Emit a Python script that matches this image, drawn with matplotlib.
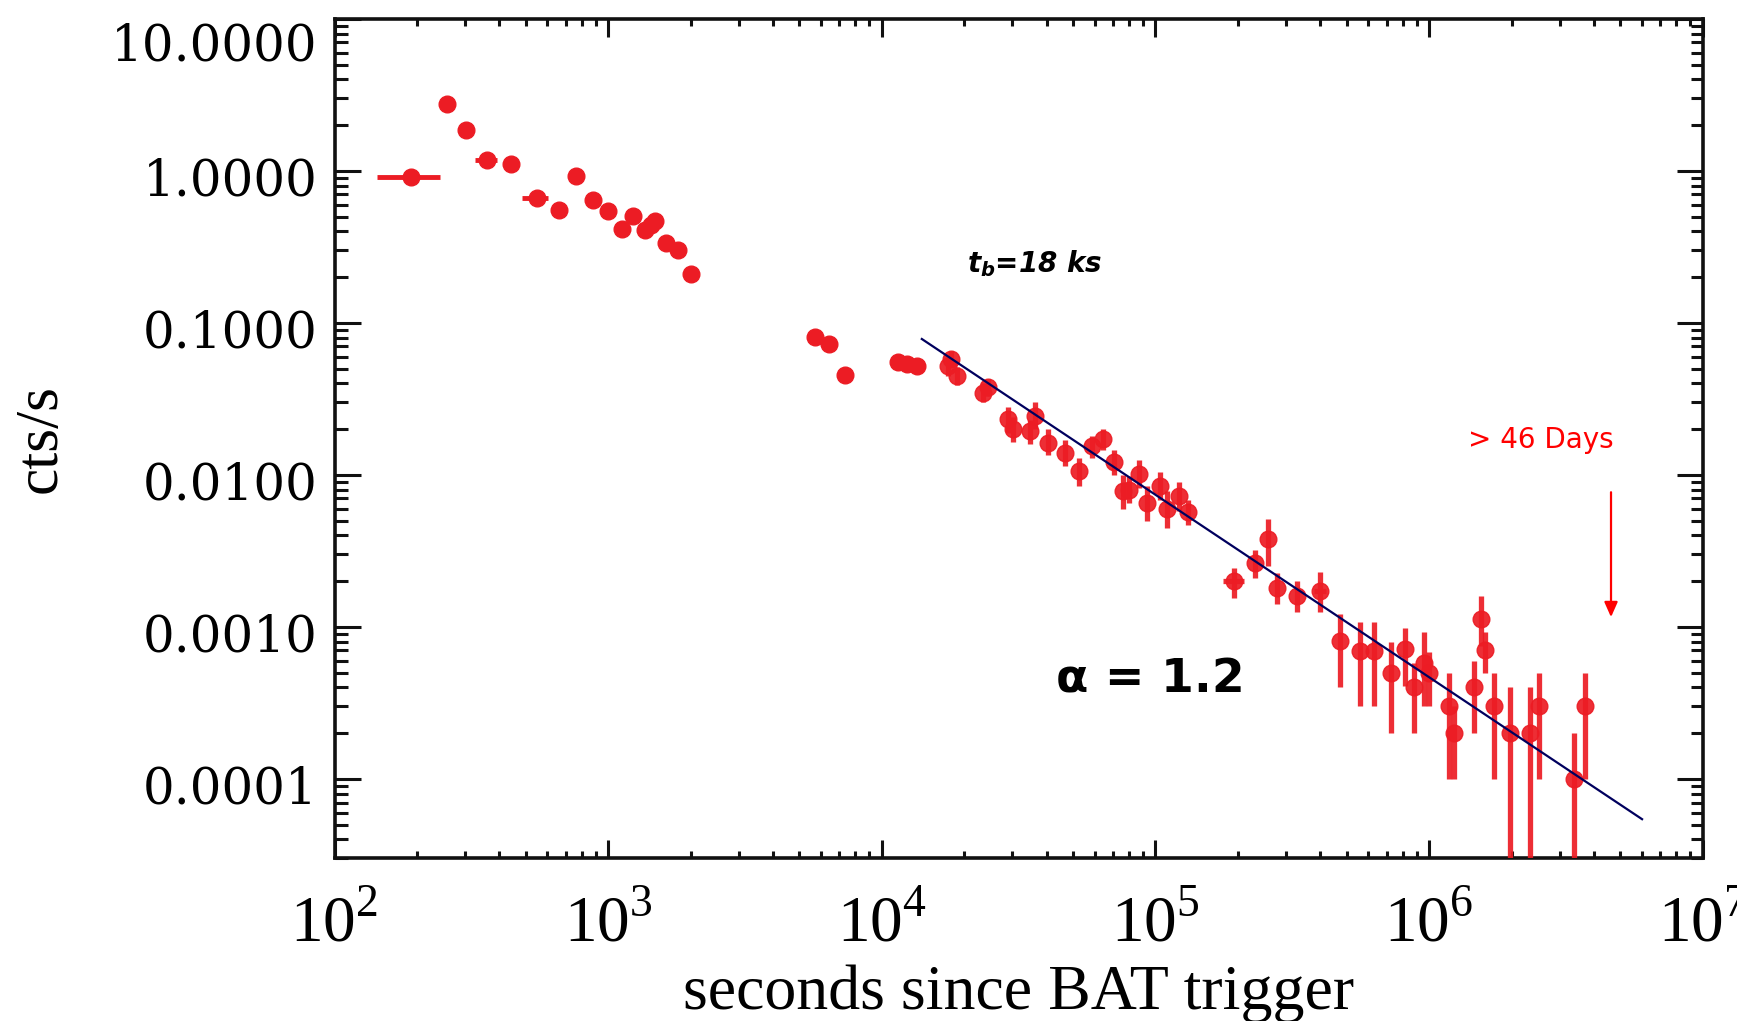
import numpy as np
import matplotlib.pyplot as plt
from matplotlib.transforms import ScaledTranslation

plt.rcParams['mathtext.fontset'] = 'custom'
plt.rcParams['mathtext.rm'] = 'Liberation Serif'
plt.rcParams['mathtext.it'] = 'DejaVu Sans:italic:bold'
plt.rcParams['mathtext.bf'] = 'DejaVu Sans:bold'

# early light curve (no visible rate errors)
t_early = [191, 258, 302, 362, 440, 548, 659, 761, 879, 1002, 1120, 1236,
           1365, 1430, 1484, 1628, 1795, 2008,
           5700, 6435, 7343, 11500, 12360, 13400]
rate_early = [0.905, 2.75, 1.86, 1.18, 1.11, 0.658, 0.551, 0.927, 0.641, 0.546,
              0.413, 0.506, 0.407, 0.44, 0.469, 0.333, 0.302, 0.209,
              0.0813, 0.0724, 0.0455, 0.055, 0.054, 0.052]
# time bins wider than the marker
xbin_idx = [0, 3, 5]
xbin_lo = [143, 327, 483]
xbin_hi = [242, 392, 604]

# late light curve with rate errors
t_late = [17520, 17850, 18790, 23500, 24500, 29010, 30270, 34830, 36330, 40640,
          46770, 52750, 58550, 64550, 70250, 76400, 79700, 86700, 93000, 104000,
          110000, 121400, 132000, 192800, 231400, 258800, 277800, 330300, 399900,
          473200, 556800, 629900, 724500, 817800, 877000, 954000, 995000,
          1.178e6, 1.228e6, 1.453e6, 1.55e6, 1.594e6, 1.72e6, 1.98e6, 2.34e6,
          2.51e6, 3.39e6, 3.70e6]
rate_late = [0.052, 0.058, 0.0448, 0.0348, 0.0376, 0.0232, 0.020, 0.0195, 0.0244,
             0.0163, 0.0140, 0.0106, 0.0155, 0.0172, 0.0121, 0.00785, 0.0080,
             0.0101, 0.00658, 0.00847, 0.00594, 0.00727, 0.00566, 0.00201,
             0.00265, 0.00378, 0.00179, 0.0016, 0.00173, 0.00081, 0.000695,
             0.000695, 0.000501, 0.000713, 0.0004, 0.000583, 0.0005,
             0.0003, 0.0002, 0.0004, 0.001125, 0.000703, 0.0003, 0.0002, 0.0002,
             0.0003, 0.0001, 0.0003]
rate_lo = [0.045, 0.051, 0.039, 0.030, 0.033, 0.019, 0.0165, 0.016, 0.020,
           0.0135, 0.0115, 0.0085, 0.013, 0.0145, 0.010, 0.006, 0.0065,
           0.0082, 0.005, 0.0068, 0.0045, 0.0058, 0.0047, 0.00156,
           0.0021, 0.00252, 0.00142, 0.00125, 0.00125, 0.0004, 0.0003,
           0.0003, 0.000202, 0.00041, 0.000202, 0.0003, 0.0003,
           0.0001, 0.0001, 0.0002, 0.00075, 0.0005, 0.0001, 1e-5, 1e-5,
           0.0001, 1e-5, 0.0001]
rate_hi = [0.060, 0.065, 0.051, 0.040, 0.043, 0.028, 0.024, 0.023, 0.030,
           0.020, 0.017, 0.013, 0.018, 0.020, 0.0145, 0.010, 0.0098,
           0.0125, 0.0085, 0.0105, 0.0078, 0.009, 0.0068, 0.00245,
           0.0032, 0.0051, 0.00225, 0.0020, 0.0023, 0.00121, 0.00107,
           0.00107, 0.00079, 0.00099, 0.00058, 0.00092, 0.00068,
           0.0005, 0.0003, 0.0006, 0.0016, 0.00092, 0.0005, 0.0004, 0.0004,
           0.0005, 0.0002, 0.0005]
tbin_idx = [23, 28]
tbin_lo = [177000, 381000]
tbin_hi = [210000, 420000]

# power-law decay after the break
fit_t = [1.4e4, 6.0e6]
fit_norm = 0.0074      # cts/s at 1e5 s
fit_index = 1.2

xticks = [1e2, 1e3, 1e4, 1e5, 1e6, 1e7]
xtick_labels = [r'$10^{2}$', r'$10^{3}$', r'$10^{4}$', r'$10^{5}$', r'$10^{6}$', r'$10^{7}$']
yticks = [1e-4, 1e-3, 1e-2, 1e-1, 1, 10]

red = '#ec1c24'

fig = plt.figure(figsize=(17.37, 10.21), dpi=100)
ax = fig.add_axes([0.1926, 0.1592, 0.7877, 0.8224])

t_e = np.array(t_early, dtype=float)
r_e = np.array(rate_early)
xe_lo = np.zeros_like(t_e)
xe_hi = np.zeros_like(t_e)
for i, lo, hi in zip(xbin_idx, xbin_lo, xbin_hi):
    xe_lo[i] = t_e[i] - lo
    xe_hi[i] = hi - t_e[i]
ax.errorbar(t_e, r_e, xerr=[xe_lo, xe_hi], fmt='o', color=red, ms=12,
            elinewidth=3.5, capsize=0, zorder=3)

t_l = np.array(t_late, dtype=float)
r_l = np.array(rate_late)
xl_lo = np.zeros_like(t_l)
xl_hi = np.zeros_like(t_l)
for i, lo, hi in zip(tbin_idx, tbin_lo, tbin_hi):
    xl_lo[i] = t_l[i] - lo
    xl_hi[i] = hi - t_l[i]
yerr = [r_l - np.array(rate_lo), np.array(rate_hi) - r_l]
ax.errorbar(t_l, r_l, xerr=[xl_lo, xl_hi], yerr=yerr, fmt='o', color=red,
            ms=12, elinewidth=3.8, ecolor=red, capsize=0, alpha=0.92, zorder=3)

fit_x = np.array(fit_t)
ax.plot(fit_x, fit_norm * (fit_x / 1e5) ** (-fit_index), color='#00005e', lw=1.6, zorder=4)

ax.set_xscale('log')
ax.set_yscale('log')
ax.set_xlim(1e2, 1e7)
ax.set_ylim(3.0e-5, 10)

ax.set_xticks(xticks)
ax.set_xticklabels(xtick_labels, fontsize=47)
ax.set_yticks(yticks)
ax.set_yticklabels(['%.4f' % v for v in yticks], family='DejaVu Serif', fontsize=36)
ax.yaxis.set_minor_formatter(plt.NullFormatter())
ax.xaxis.set_minor_formatter(plt.NullFormatter())

ax.tick_params(which='both', direction='in', top=True, right=True, width=2.2, color='#111111')
ax.tick_params(axis='x', which='major', length=13, pad=24)
ax.tick_params(axis='x', which='minor', length=5)
ax.tick_params(axis='y', which='major', length=19, pad=12)
ax.tick_params(axis='y', which='minor', length=9)
for sp in ax.spines.values():
    sp.set_linewidth(2.6)
    sp.set_color('#111111')

# y labels sit a little below their ticks; the top one is pushed down into the figure
for lab in ax.get_yticklabels():
    lab.set_transform(lab.get_transform() + ScaledTranslation(0, -0.05, fig.dpi_scale_trans))
top_lab = ax.get_yticklabels()[-1]
top_lab.set_transform(top_lab.get_transform() + ScaledTranslation(0, -0.17, fig.dpi_scale_trans))

ax.set_xlabel('seconds since BAT trigger', family='Liberation Serif', fontsize=46)
ax.xaxis.set_label_coords(0.5, -0.126)
ax.set_ylabel('cts/s', family='Liberation Serif', fontsize=44)
ax.yaxis.set_label_coords(-0.194, 0.5)

ax.text(2.05e4, 0.247, r'$t_b$=18 ks', family='DejaVu Sans', fontweight='bold',
        style='italic', fontsize=20, ha='left', va='center')
ax.text(9.55e4, 4.46e-4, 'α = 1.2', family='DejaVu Sans', fontweight='bold',
        fontsize=34, ha='center', va='center')
ax.text(2.57e6, 0.0169, '> 46 Days', family='DejaVu Sans', color='#ff0000',
        fontsize=20, ha='center', va='center')
ax.annotate('', xy=(4.62e6, 0.00116), xytext=(4.62e6, 0.00769),
            arrowprops=dict(arrowstyle='-|>,head_length=0.9,head_width=0.4',
                            color='#ff0000', lw=1.6, shrinkA=0, shrinkB=0))

fig.savefig('out.png', dpi=100)
